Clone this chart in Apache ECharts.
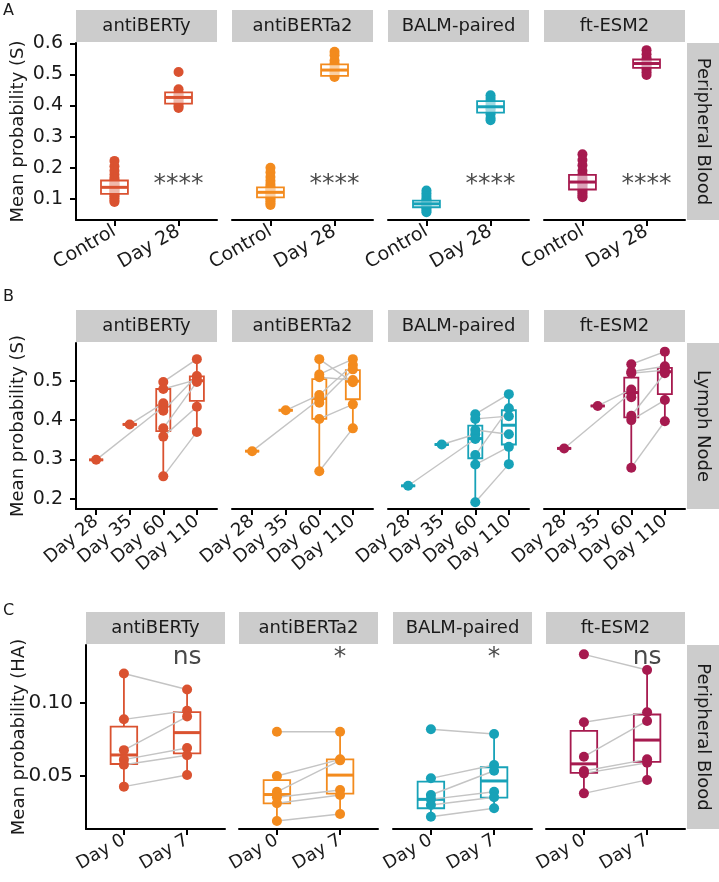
<!DOCTYPE html>
<html>
<head>
<meta charset="UTF-8">
<title>Mean probability</title>
<style>
html, body { margin: 0; padding: 0; background: #fff; }
#main { width: 719px; height: 882px; }
</style>
</head>
<body>
<div id="main"></div>
<script src="https://cdn.jsdelivr.net/npm/echarts@6/dist/echarts.min.js"></script>
<script>
// ---- data ----
var models = ['antiBERTy', 'antiBERTa2', 'BALM-paired', 'ft-ESM2'];
var modelColors = ['#DA5230', '#F38B1E', '#17A2B8', '#A61A4F'];

// A: peripheral blood, S
var aCats = ['Control', 'Day 28'];
var aControl = [
  [0.222, 0.205, 0.19, 0.178, 0.168, 0.161, 0.156, 0.150, 0.146, 0.141, 0.138, 0.135, 0.131, 0.127, 0.122, 0.118, 0.113, 0.108, 0.102, 0.095, 0.09],
  [0.200, 0.185, 0.170, 0.158, 0.148, 0.140, 0.135, 0.130, 0.125, 0.121, 0.117, 0.112, 0.107, 0.103, 0.098, 0.092, 0.086, 0.08],
  [0.127, 0.118, 0.109, 0.100, 0.095, 0.091, 0.087, 0.084, 0.081, 0.077, 0.073, 0.068, 0.062, 0.057],
  [0.243, 0.225, 0.208, 0.190, 0.178, 0.170, 0.163, 0.157, 0.152, 0.147, 0.141, 0.136, 0.130, 0.124, 0.117, 0.110, 0.105]
];
var aDay28 = [
  [0.508, 0.452, 0.441, 0.435, 0.429, 0.426, 0.420, 0.413, 0.406, 0.398, 0.392],
  [0.573, 0.562, 0.545, 0.535, 0.527, 0.518, 0.512, 0.506, 0.499, 0.492],
  [0.433, 0.424, 0.415, 0.408, 0.400, 0.394, 0.388, 0.380, 0.372, 0.360, 0.353],
  [0.578, 0.565, 0.553, 0.546, 0.540, 0.535, 0.530, 0.524, 0.516, 0.507, 0.498]
];
// box stats: [low whisker, q1, median, q3, high whisker]
var aBoxes = [
  [[0.09, 0.116, 0.137, 0.159, 0.222], [0.392, 0.406, 0.426, 0.442, 0.452]],
  [[0.08, 0.105, 0.121, 0.137, 0.185], [0.492, 0.495, 0.514, 0.532, 0.573]],
  [[0.057, 0.073, 0.084, 0.094, 0.118], [0.353, 0.377, 0.396, 0.414, 0.433]],
  [[0.105, 0.130, 0.154, 0.177, 0.243], [0.498, 0.521, 0.535, 0.548, 0.578]]
];
var aSig = ['****', '****', '****', '****'];
var aSigY = 0.145;
var aTicks = [0.1, 0.2, 0.3, 0.4, 0.5, 0.6];

// B: lymph node, S  (each subject: [Day 28, Day 35, Day 60, Day 110])
var bCats = ['Day 28', 'Day 35', 'Day 60', 'Day 110'];
var bSubjects = [
  [[0.299, null, 0.434, null], [null, 0.389, 0.443, null], [null, null, 0.497, 0.555], [null, null, 0.479, 0.503],
   [null, null, 0.424, 0.512], [null, null, 0.379, 0.497], [null, null, 0.358, 0.434], [null, null, 0.257, 0.370]],
  [[0.321, null, 0.453, null], [null, 0.425, 0.464, 0.540], [null, null, 0.555, 0.496], [null, null, 0.516, 0.555],
   [null, null, 0.509, 0.502], [null, null, 0.444, 0.529], [null, null, 0.403, 0.440], [null, null, 0.270, 0.379]],
  [[0.233, null, 0.352, null], [null, 0.338, 0.364, null], [null, null, 0.415, 0.466], [null, null, 0.403, 0.410],
   [null, null, 0.375, 0.364], [null, null, 0.311, 0.430], [null, null, 0.287, 0.332], [null, null, 0.191, 0.288]],
  [[0.328, null, 0.470, null], [null, 0.436, 0.478, null], [null, null, 0.542, 0.574], [null, null, 0.523, 0.537],
   [null, null, 0.519, 0.527], [null, null, 0.458, null], [null, null, 0.411, 0.519], [null, null, 0.400, 0.451],
   [null, null, 0.279, 0.397]]
];
var bBoxes = [
  [[0.299, 0.299, 0.299, 0.299, 0.299], [0.389, 0.389, 0.389, 0.389, 0.389], [0.257, 0.372, 0.436, 0.479, 0.497], [0.370, 0.449, 0.500, 0.511, 0.555]],
  [[0.321, 0.321, 0.321, 0.321, 0.321], [0.425, 0.425, 0.425, 0.425, 0.425], [0.270, 0.403, 0.455, 0.504, 0.555], [0.379, 0.453, 0.499, 0.527, 0.555]],
  [[0.233, 0.233, 0.233, 0.233, 0.233], [0.338, 0.338, 0.338, 0.338, 0.338], [0.191, 0.303, 0.353, 0.386, 0.415], [0.288, 0.338, 0.387, 0.425, 0.466]],
  [[0.328, 0.328, 0.328, 0.328, 0.328], [0.436, 0.436, 0.436, 0.436, 0.436], [0.279, 0.407, 0.470, 0.508, 0.542], [0.397, 0.466, 0.523, 0.533, 0.574]]
];
var bTicks = [0.2, 0.3, 0.4, 0.5];

// C: peripheral blood, HA (paired by index)
var cCats = ['Day 0', 'Day 7'];
var cDay0 = [
  [0.120, 0.0886, 0.0675, 0.0610, 0.0575, 0.0425],
  [0.0801, 0.0498, 0.0390, 0.0352, 0.0311, 0.0190],
  [0.0818, 0.0482, 0.0368, 0.0338, 0.0299, 0.0219],
  [0.1331, 0.0866, 0.0630, 0.0532, 0.0516, 0.0379]
];
var cDay7 = [
  [0.109, 0.0945, 0.0905, 0.0690, 0.0640, 0.0505],
  [0.0801, 0.0612, 0.0605, 0.0402, 0.0368, 0.0238],
  [0.0786, 0.0573, 0.0534, 0.0390, 0.0352, 0.0277],
  [0.1224, 0.0934, 0.0875, 0.0612, 0.0589, 0.0471]
];
var cBoxes = [
  [[0.0425, 0.058, 0.0642, 0.0836, 0.120], [0.0505, 0.0653, 0.0795, 0.0936, 0.109]],
  [[0.019, 0.031, 0.0371, 0.047, 0.0498], [0.0238, 0.0377, 0.0504, 0.0612, 0.0801]],
  [[0.0219, 0.0277, 0.0338, 0.0459, 0.0482], [0.0277, 0.035, 0.0464, 0.0558, 0.0786]],
  [[0.0379, 0.052, 0.0581, 0.0807, 0.0866], [0.0471, 0.0595, 0.0744, 0.0919, 0.1224]]
];
var cSig = ['ns', '*', '*', 'ns'];
var cSigY = 0.131;
var cTicks = [0.05, 0.10];

// ---- layout ----
var FONT = 'DejaVu Sans';
var rows = [
  { letter: 'A', letterY: 3, top: 43, height: 177, lefts: [76, 232, 388, 544], width: 141, min: 0.032, max: 0.601,
    ticks: aTicks, digits: 1, cats: aCats, rotate: 30, tickFont: 19, catFont: 19, titleFont: 18, titleX: 18,
    title: 'Mean probability (S)', side: 'Peripheral Blood', boxOnTop: true },
  { letter: 'B', letterY: 289, top: 343, height: 166, lefts: [76, 232, 388, 544], width: 141, min: 0.174, max: 0.596,
    ticks: bTicks, digits: 1, cats: bCats, rotate: 40, tickFont: 19, catFont: 18, titleFont: 18, titleX: 18,
    title: 'Mean probability (S)', side: 'Lymph Node', boxOnTop: false },
  { letter: 'C', letterY: 603, top: 645, height: 184, lefts: [86, 239, 393, 546], width: 139, min: 0.0135, max: 0.1395,
    ticks: cTicks, digits: 2, cats: cCats, rotate: 30, tickFont: 20, catFont: 18, titleFont: 18, titleX: 19,
    title: 'Mean probability (HA)', side: 'Peripheral Blood', boxOnTop: false }
];

function boxRenderer(fill) {
  return function (params, api) {
    var x = api.value(0);
    var p = [1, 2, 3, 4, 5].map(function (i) { return api.coord([x, api.value(i)]); });
    var half = api.size([0.21, 0])[0];
    var color = api.visual('color');
    var lw = 1.8;
    return {
      type: 'group',
      children: [
        { type: 'line', shape: { x1: p[0][0], y1: p[0][1], x2: p[1][0], y2: p[1][1] }, style: { stroke: color, lineWidth: lw } },
        { type: 'line', shape: { x1: p[3][0], y1: p[3][1], x2: p[4][0], y2: p[4][1] }, style: { stroke: color, lineWidth: lw } },
        { type: 'rect', shape: { x: p[3][0] - half, y: p[3][1], width: half * 2, height: p[1][1] - p[3][1] },
          style: { fill: fill, stroke: color, lineWidth: lw } },
        { type: 'line', shape: { x1: p[2][0] - half, y1: p[2][1], x2: p[2][0] + half, y2: p[2][1] }, style: { stroke: color, lineWidth: 3 } }
      ]
    };
  };
}

var grids = [], xAxes = [], yAxes = [], series = [], graphics = [];

rows.forEach(function (row, r) {
  var n = row.cats.length;
  var catIdx = row.cats.map(function (c, i) { return i + 1; });

  row.lefts.forEach(function (left, f) {
    var gi = r * 4 + f;
    var color = modelColors[f];
    grids.push({ left: left, top: row.top, width: row.width, height: row.height, containLabel: false });
    xAxes.push({
      type: 'value', gridIndex: gi, min: 0.4, max: n + 0.6,
      axisLine: { show: true, onZero: false, lineStyle: { color: '#000', width: 2 } },
      axisTick: { show: true, customValues: catIdx, length: 6, lineStyle: { color: '#000', width: 2 } },
      axisLabel: {
        show: true, customValues: catIdx, rotate: row.rotate, margin: 10,
        fontFamily: FONT, fontSize: row.catFont, color: '#1a1a1a',
        formatter: function (v) { return row.cats[Math.round(v) - 1] || ''; }
      },
      splitLine: { show: false }
    });
    var first = f === 0;
    yAxes.push({
      type: 'value', gridIndex: gi, min: row.min, max: row.max, show: first,
      axisLine: { show: first, lineStyle: { color: '#000', width: 2 } },
      axisTick: { show: first, customValues: row.ticks, length: 6, lineStyle: { color: '#000', width: 2 } },
      axisLabel: {
        show: first, customValues: row.ticks, margin: 13,
        fontFamily: FONT, fontSize: row.tickFont, color: '#1a1a1a',
        formatter: function (v) { return v.toFixed(row.digits); }
      },
      splitLine: { show: false }
    });

    var points = [], links = [], boxes = [], sig = null;
    if (r === 0) {
      aControl[f].forEach(function (v) { points.push([1, v]); });
      aDay28[f].forEach(function (v) { points.push([2, v]); });
      aBoxes[f].forEach(function (b, i) { boxes.push([i + 1].concat(b)); });
      sig = { text: aSig[f], y: aSigY };
    } else if (r === 1) {
      bSubjects[f].forEach(function (s) {
        var coords = [];
        s.forEach(function (v, d) { if (v !== null) { points.push([d + 1, v]); coords.push([d + 1, v]); } });
        if (coords.length > 1) links.push({ coords: coords });
      });
      bBoxes[f].forEach(function (b, i) { boxes.push([i + 1].concat(b)); });
    } else {
      cDay0[f].forEach(function (v, k) {
        points.push([1, v]); points.push([2, cDay7[f][k]]);
        links.push({ coords: [[1, v], [2, cDay7[f][k]]] });
      });
      cBoxes[f].forEach(function (b, i) { boxes.push([i + 1].concat(b)); });
      sig = { text: cSig[f], y: cSigY };
    }

    series.push({
      type: 'custom', xAxisIndex: gi, yAxisIndex: gi, silent: true,
      renderItem: boxRenderer(row.boxOnTop ? 'rgba(255,255,255,0.6)' : 'rgba(255,255,255,0)'),
      itemStyle: { color: color }, data: boxes, z: row.boxOnTop ? 5 : 1,
      encode: { x: 0, y: [1, 2, 3, 4, 5] }
    });
    if (links.length) {
      series.push({
        type: 'lines', coordinateSystem: 'cartesian2d', xAxisIndex: gi, yAxisIndex: gi, polyline: true, silent: true,
        lineStyle: { color: '#C4C4C4', width: 1.4, opacity: 1 }, data: links, z: 2
      });
    }
    series.push({
      type: 'scatter', xAxisIndex: gi, yAxisIndex: gi, symbolSize: 10, silent: true,
      itemStyle: { color: color, opacity: 1 }, data: points, z: 3
    });
    if (sig) {
      series.push({
        type: 'scatter', xAxisIndex: gi, yAxisIndex: gi, symbolSize: 1, silent: true,
        itemStyle: { color: 'rgba(0,0,0,0)' }, data: [[2, sig.y]], z: 6,
        label: { show: true, position: 'inside', formatter: sig.text, fontFamily: FONT, fontSize: 25, color: '#1a1a1a' }
      });
    }

    // facet strip
    graphics.push({ type: 'rect', left: left, top: row.top - 33, shape: { width: row.width, height: 32 }, style: { fill: '#CCCCCC' } });
    graphics.push({ type: 'text', x: left + row.width / 2, y: row.top - 17,
      style: { text: models[f], font: '18px "' + FONT + '"', fill: '#1a1a1a', align: 'center', verticalAlign: 'middle' } });
  });

  // right-side strip
  var sx = 687;
  graphics.push({ type: 'rect', left: sx, top: row.top, shape: { width: 32, height: row.height }, style: { fill: '#CCCCCC' } });
  graphics.push({ type: 'text', x: sx + 16, y: row.top + row.height / 2, rotation: -Math.PI / 2,
    style: { text: row.side, font: '18px "' + FONT + '"', fill: '#1a1a1a', align: 'center', verticalAlign: 'middle' } });
  // y title
  graphics.push({ type: 'text', x: row.titleX, y: row.top + row.height / 2, rotation: Math.PI / 2,
    style: { text: row.title, font: row.titleFont + 'px "' + FONT + '"', fill: '#1a1a1a', align: 'center', verticalAlign: 'middle' } });
  // panel letter
  graphics.push({ type: 'text', x: 3, y: row.letterY,
    style: { text: row.letter, font: '16px "' + FONT + '"', fill: '#1a1a1a', align: 'left', verticalAlign: 'top' } });
});

var chart = echarts.init(document.getElementById('main'));
chart.setOption({
  animation: false,
  backgroundColor: '#ffffff',
  grid: grids,
  xAxis: xAxes,
  yAxis: yAxes,
  series: series,
  graphic: graphics
});
</script>
</body>
</html>
